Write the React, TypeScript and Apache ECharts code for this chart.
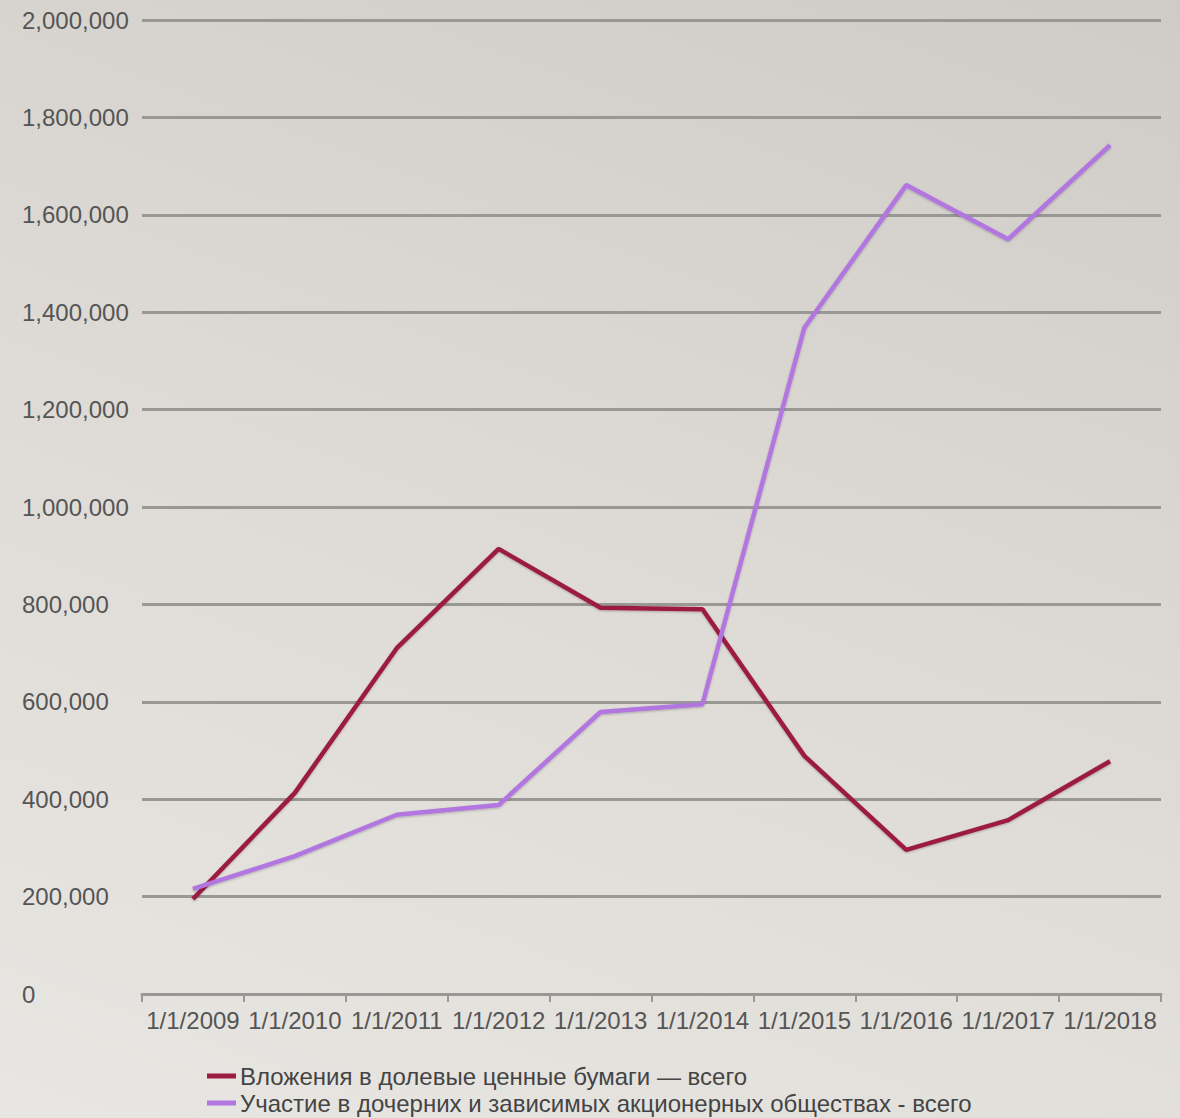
import React, { useEffect, useRef } from "react";
import * as echarts from "echarts";

const categories = ["1/1/2009", "1/1/2010", "1/1/2011", "1/1/2012", "1/1/2013", "1/1/2014", "1/1/2015", "1/1/2016", "1/1/2017", "1/1/2018"];
const seriesNames = ["Вложения в долевые ценные бумаги — всего", "Участие в дочерних и зависимых акционерных обществах - всего"];
const equityInvestments = [195000, 413000, 710000, 914000, 793000, 790000, 489000, 296000, 357000, 478000];
const subsidiaries = [216000, 283000, 368000, 388000, 579000, 595000, 1368000, 1661000, 1550000, 1743000];

export default function App() {
  const ref = useRef<HTMLDivElement>(null);
  useEffect(() => {
    document.body.style.margin = "0";
    const chart = echarts.init(ref.current!, null, { renderer: "svg" });
    const font = "'Liberation Sans', Arial, sans-serif";
    const legendCommon = {
      orient: "horizontal",
      left: 207,
      padding: 0,
      itemWidth: 29,
      itemHeight: 5,
      icon: "rect",
      textStyle: { color: "#444", fontSize: 24, fontFamily: font, padding: [0, 0, 0, -1] },
    };
    chart.setOption({
      animation: false,
      grid: { left: 142, right: 19, top: 20, bottom: 124, containLabel: false },
      xAxis: {
        type: "category",
        data: categories,
        boundaryGap: true,
        axisLine: { show: true, lineStyle: { color: "#9a9894", width: 3 } },
        axisTick: { show: true, length: 8, lineStyle: { color: "#9a9894", width: 2 } },
        axisLabel: { color: "#555", fontSize: 24, fontFamily: font, margin: 14, interval: 0 },
      },
      yAxis: {
        type: "value",
        min: 0,
        max: 2000000,
        interval: 200000,
        axisLine: { show: false },
        axisTick: { show: false },
        axisLabel: {
          color: "#555",
          fontSize: 24,
          fontFamily: font,
          margin: 120,
          align: "left",
          formatter: (v: number) => v.toLocaleString("en-US"),
        },
        splitLine: { lineStyle: { color: "#9a9894", width: 3 } },
      },
      legend: [
        { ...legendCommon, top: 1064, data: [seriesNames[0]] },
        { ...legendCommon, top: 1091, data: [seriesNames[1]] },
      ],
      series: [
        {
          name: seriesNames[0],
          type: "line",
          data: equityInvestments,
          symbol: "none",
          lineStyle: { color: "#9c1d3f", width: 4.5, shadowColor: "rgba(0,0,0,0.25)", shadowBlur: 2, shadowOffsetY: 1 },
          itemStyle: { color: "#9c1d3f" },
        },
        {
          name: seriesNames[1],
          type: "line",
          data: subsidiaries,
          symbol: "none",
          lineStyle: { color: "#b276e0", width: 4.5, shadowColor: "rgba(0,0,0,0.25)", shadowBlur: 2, shadowOffsetY: 1 },
          itemStyle: { color: "#b276e0" },
        },
      ],
    });
    return () => chart.dispose();
  }, []);
  return (
    <div
      ref={ref}
      style={{
        width: 1180,
        height: 1118,
        background: "linear-gradient(20deg, #e8e6e2 0%, #dedbd6 50%, #cfccc7 100%)",
      }}
    />
  );
}
